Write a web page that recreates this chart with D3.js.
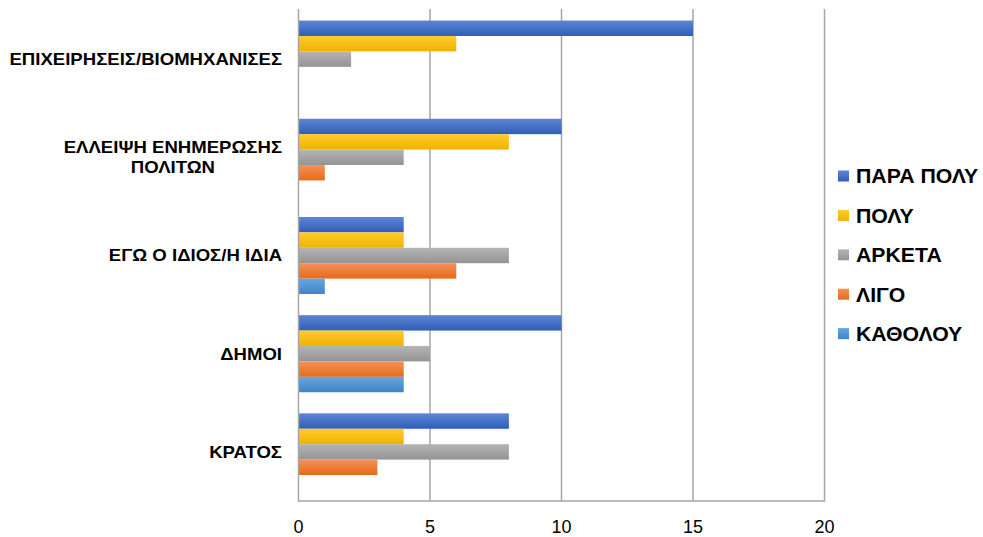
<!DOCTYPE html>
<html>
<head>
<meta charset="utf-8">
<script src="https://cdn.jsdelivr.net/npm/d3@7"></script>
<style>
  html, body { margin: 0; padding: 0; background: #fff; }
  svg { display: block; }
</style>
</head>
<body>
<svg id="chart" width="983" height="537"></svg>
<script>
// Categories, top to bottom
const categories = [
  "ΕΠΙΧΕΙΡΗΣΕΙΣ/ΒΙΟΜΗΧΑΝΙΣΕΣ",
  "ΕΛΛΕΙΨΗ ΕΝΗΜΕΡΩΣΗΣ ΠΟΛΙΤΩΝ",
  "ΕΓΩ Ο ΙΔΙΟΣ/Η ΙΔΙΑ",
  "ΔΗΜΟΙ",
  "ΚΡΑΤΟΣ"
];
// Label lines per category
const categoryLines = [
  ["ΕΠΙΧΕΙΡΗΣΕΙΣ/ΒΙΟΜΗΧΑΝΙΣΕΣ"],
  ["ΕΛΛΕΙΨΗ ΕΝΗΜΕΡΩΣΗΣ", "ΠΟΛΙΤΩΝ"],
  ["ΕΓΩ Ο ΙΔΙΟΣ/Η ΙΔΙΑ"],
  ["ΔΗΜΟΙ"],
  ["ΚΡΑΤΟΣ"]
];
// Series, in drawing order within each group (top to bottom)
const seriesNames = ["ΠΑΡΑ ΠΟΛΥ", "ΠΟΛΥ", "ΑΡΚΕΤΑ", "ΛΙΓΟ", "ΚΑΘΟΛΟΥ"];
const paraPoly = [15, 10, 4, 10, 8];
const poly     = [6, 8, 4, 4, 4];
const arketa   = [2, 4, 8, 5, 8];
const ligo     = [0, 1, 6, 4, 3];
const katholou = [0, 0, 1, 4, 0];
const seriesValues = [paraPoly, poly, arketa, ligo, katholou];
const xTicks = [0, 5, 10, 15, 20];

// Gradient stops (top, bottom) per series
const seriesColors = [
  ["#5d85d2", "#2f5eb9"],
  ["#ffcc2e", "#efb200"],
  ["#b4b4b4", "#949494"],
  ["#f5915a", "#e56b1b"],
  ["#67a7e0", "#3e84c6"]
];

const FONT = "'Liberation Sans', Arial, sans-serif";

const svg = d3.select("#chart");
const defs = svg.append("defs");
seriesColors.forEach((c, i) => {
  const g = defs.append("linearGradient")
    .attr("id", "grad" + i)
    .attr("x1", 0).attr("y1", 0).attr("x2", 0).attr("y2", 1);
  g.append("stop").attr("offset", "0%").attr("stop-color", c[0]);
  g.append("stop").attr("offset", "100%").attr("stop-color", c[1]);
});

const plot = { left: 298.5, right: 824.5, top: 9, bottom: 501 };

const x = d3.scaleLinear().domain([0, 20]).range([plot.left, plot.right]);
const y = d3.scaleBand().domain(categories).range([plot.top + 1, plot.bottom])
  .paddingInner(0.215).paddingOuter(0.1075);
const ySub = d3.scaleBand().domain(seriesNames).range([0, y.bandwidth()]);

// Vertical gridlines
svg.append("g").selectAll("line")
  .data(xTicks.slice(1))
  .join("line")
  .attr("x1", d => x(d)).attr("x2", d => x(d))
  .attr("y1", plot.top).attr("y2", plot.bottom)
  .attr("stroke", "#a6a6a6").attr("stroke-width", 1.5);

// Bars
const groups = svg.append("g").selectAll("g")
  .data(categories)
  .join("g")
  .attr("transform", d => `translate(0,${y(d)})`);

groups.selectAll("rect")
  .data((d, ci) => seriesNames.map((s, si) => ({ s, si, v: seriesValues[si][ci] })))
  .join("rect")
  .attr("x", x(0))
  .attr("y", d => ySub(d.s))
  .attr("width", d => x(d.v) - x(0))
  .attr("height", ySub.bandwidth())
  .attr("fill", d => `url(#grad${d.si})`);

// Axis lines
svg.append("line")
  .attr("x1", plot.left).attr("x2", plot.left)
  .attr("y1", plot.top).attr("y2", plot.bottom)
  .attr("stroke", "#a6a6a6").attr("stroke-width", 1.5);
svg.append("line")
  .attr("x1", plot.left - 0.75).attr("x2", plot.right + 0.75)
  .attr("y1", plot.bottom).attr("y2", plot.bottom)
  .attr("stroke", "#a6a6a6").attr("stroke-width", 1.5);

// X tick labels
svg.append("g").selectAll("text")
  .data(xTicks)
  .join("text")
  .attr("x", d => x(d))
  .attr("y", 533)
  .attr("text-anchor", "middle")
  .attr("font-family", FONT)
  .attr("font-size", 18)
  .attr("fill", "#000")
  .text(d => d);

// Category labels: multi-line blocks, lines centred on each other,
// block right-aligned against the axis; glyphs widened horizontally
const catStretch = 1.14;
const labelRight = 282;
svg.append("g").selectAll("g")
  .data(categories)
  .join("g")
  .each(function (d, i) {
    const lines = categoryLines[i];
    const cy = y(d) + y.bandwidth() / 2;
    const lh = 20;
    const g = d3.select(this);
    const t = g.append("text")
      .attr("font-family", FONT)
      .attr("font-weight", "bold")
      .attr("font-size", 16.3)
      .attr("fill", "#000")
      .attr("text-anchor", "middle");
    lines.forEach((ln, j) => {
      t.append("tspan")
        .attr("x", 0)
        .attr("y", cy + (j - (lines.length - 1) / 2) * lh + 6)
        .text(ln);
    });
    const w = d3.max(t.selectAll("tspan").nodes(), n => n.getComputedTextLength()) * catStretch;
    g.attr("transform", `translate(${labelRight - w / 2},0) scale(${catStretch},1)`);
  });

// Legend
const legStretch = 1.09;
const legend = svg.append("g").selectAll("g")
  .data(seriesNames)
  .join("g")
  .attr("transform", (d, i) => `translate(838,${176 + i * 39.4})`);
legend.append("rect")
  .attr("x", 0).attr("y", -5.5)
  .attr("width", 11).attr("height", 11)
  .attr("fill", (d, i) => `url(#grad${i})`);
legend.append("text")
  .attr("transform", `translate(18,7.3) scale(${legStretch},1)`)
  .attr("font-family", FONT)
  .attr("font-weight", "bold")
  .attr("font-size", 19.5)
  .attr("fill", "#000")
  .text(d => d);
</script>
</body>
</html>
